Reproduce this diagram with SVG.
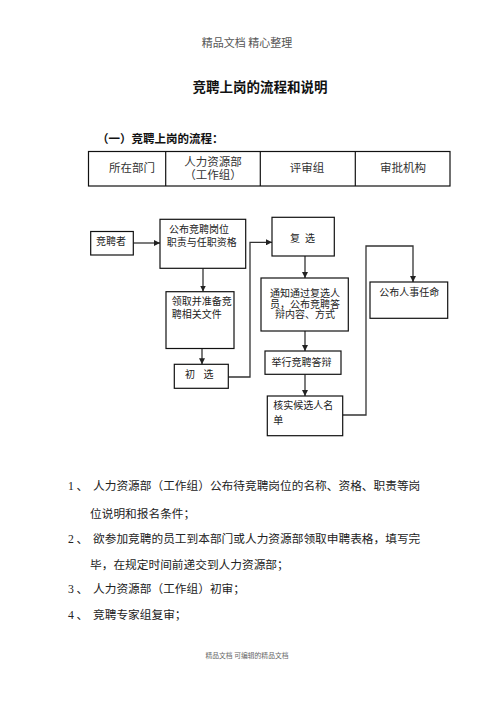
<svg xmlns="http://www.w3.org/2000/svg" width="496" height="702" viewBox="0 0 496 702">
<style>
.cjk{font-family:"Noto Sans CJK SC","Liberation Sans",sans-serif;}
.box{fill:#fff;stroke:#111;stroke-width:1.2;}
.cell{fill:none;stroke:#111;stroke-width:1.2;}
.conn{fill:none;stroke:#333;stroke-width:1.3;}
.t{font-family:"Noto Sans CJK SC","Liberation Sans",sans-serif;font-size:10px;fill:#222;}
.th{font-family:"Noto Sans CJK SC","Liberation Sans",sans-serif;font-size:11.5px;fill:#333;}
.body{font-family:"Noto Sans CJK SC","Liberation Sans",sans-serif;font-size:11.7px;fill:#222;}
.num{font-family:"Liberation Serif",serif;font-size:11.7px;fill:#222;}
</style>
<defs>
<marker id="arr" markerWidth="6" markerHeight="6" refX="6" refY="3" orient="auto" markerUnits="userSpaceOnUse">
<path d="M0,0 L6,3 L0,6 z" fill="#222"/>
</marker>
</defs>
<rect width="496" height="702" fill="#fff"/>
<text class="cjk" x="247" y="46.9" font-size="11" fill="#555" text-anchor="middle">精品文档 精心整理</text>
<text class="cjk" x="260" y="91.8" font-size="13.5" font-weight="bold" fill="#111" text-anchor="middle">竞聘上岗的流程和说明</text>
<text class="cjk" x="97" y="142.7" font-size="11.5" font-weight="bold" fill="#111">（一）竞聘上岗的流程：</text>
<g id="table">
<rect class="cell" x="88.5" y="151.5" width="361.5" height="34.5"/>
<line class="cell" x1="165.7" y1="151.5" x2="165.7" y2="186"/>
<line class="cell" x1="260.3" y1="151.5" x2="260.3" y2="186"/>
<line class="cell" x1="355.3" y1="151.5" x2="355.3" y2="186"/>
<text class="th" x="132" y="172.4" text-anchor="middle">所在部门</text>
<text class="th" x="213" y="166" text-anchor="middle">人力资源部</text>
<text class="th" x="213" y="179.4" text-anchor="middle">（工作组）</text>
<text class="th" x="307" y="172.4" text-anchor="middle">评审组</text>
<text class="th" x="403" y="172.4" text-anchor="middle">审批机构</text>
</g>
<g id="connectors">
<path class="conn" d="M133.3,243 H160" marker-end="url(#arr)"/>
<path class="conn" d="M203,268.3 V291.5" marker-end="url(#arr)"/>
<path class="conn" d="M202,348.5 V364.3" marker-end="url(#arr)"/>
<path class="conn" d="M228.3,377 H250 V242.3 H272" marker-end="url(#arr)"/>
<path class="conn" d="M305,256 V278" marker-end="url(#arr)"/>
<path class="conn" d="M305,331 V351" marker-end="url(#arr)"/>
<path class="conn" d="M305,374.3 V396" marker-end="url(#arr)"/>
<path class="conn" d="M342.7,415 H366 V246 H413 V282" marker-end="url(#arr)"/>
</g>
<g id="n-applicant">
<rect class="box" x="90.7" y="231.5" width="42.6" height="23.5"/>
<text class="t" x="96" y="244.8">竞聘者</text>
</g>
<g id="n-publish">
<rect class="box" x="160" y="219.3" width="85.7" height="49"/>
<text class="t" x="169" y="233.3">公布竞聘岗位</text>
<text class="t" x="166.7" y="245.8">职责与任职资格</text>
</g>
<g id="n-collect">
<rect class="box" x="166" y="291.7" width="68" height="56.8"/>
<text class="t" x="171.7" y="304.8">领取并准备竞</text>
<text class="t" x="171.7" y="317.8">聘相关文件</text>
</g>
<g id="n-first">
<rect class="box" x="174.3" y="364.3" width="54" height="24"/>
<text class="t" x="185" y="377.8">初</text>
<text class="t" x="203.5" y="377.8">选</text>
</g>
<g id="n-second">
<rect class="box" x="272" y="217.3" width="62.3" height="38.7"/>
<text class="t" x="290" y="242">复</text>
<text class="t" x="305" y="242">选</text>
</g>
<g id="n-notify">
<rect class="box" x="261" y="278" width="87.3" height="53"/>
<text class="t" x="305" y="297.2" text-anchor="middle">通知通过复选人</text>
<text class="t" x="305" y="307.8" text-anchor="middle">员，公布竞聘答</text>
<text class="t" x="305" y="318.3" text-anchor="middle">辩内容、方式</text>
</g>
<g id="n-defense">
<rect class="box" x="265" y="351" width="76" height="23.3"/>
<text class="t" x="271.5" y="365.5" font-size="10.4">举行竞聘答辩</text>
</g>
<g id="n-verify">
<rect class="box" x="267.3" y="396" width="75.4" height="39.7"/>
<text class="t" x="273.3" y="408.8">核实候选人名</text>
<text class="t" x="273.3" y="423.8">单</text>
</g>
<g id="n-appoint">
<rect class="box" x="370" y="282" width="77.7" height="36.3"/>
<text class="t" x="379.3" y="295.5">公布人事任命</text>
</g>
<g id="notes">
<text class="num" x="68" y="490.4">1</text><text class="body" x="76.5" y="490.4">、</text>
<text class="body" x="93" y="490.4">人力资源部（工作组）公布待竞聘岗位的名称、资格、职责等岗</text>
<text class="body" x="90" y="517.7">位说明和报名条件；</text>
<text class="num" x="68" y="542.7">2</text><text class="body" x="76.5" y="542.7">、</text>
<text class="body" x="93" y="542.7">欲参加竞聘的员工到本部门或人力资源部领取申聘表格，填写完</text>
<text class="body" x="90" y="569.4">毕，在规定时间前递交到人力资源部；</text>
<text class="num" x="68" y="592.7">3</text><text class="body" x="76.5" y="592.7">、</text>
<text class="body" x="93" y="592.7">人力资源部（工作组）初审；</text>
<text class="num" x="68" y="619.4">4</text><text class="body" x="76.5" y="619.4">、</text>
<text class="body" x="93" y="619.4">竞聘专家组复审；</text>
</g>
<text class="cjk" x="247" y="657.6" font-size="6.8" fill="#666" text-anchor="middle">精品文档 可编辑的精品文档</text>
</svg>
